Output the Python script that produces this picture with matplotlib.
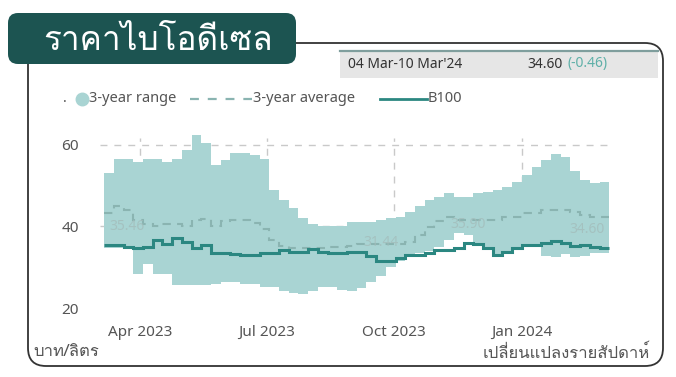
import matplotlib
matplotlib.use("Agg")
import matplotlib.pyplot as plt
import matplotlib.dates as mdates
from matplotlib.patches import FancyBboxPatch, Rectangle
from matplotlib.lines import Line2D
from matplotlib import font_manager
import pandas as pd


def find_thai_font():
    # look for any installed font that has Thai glyphs
    try:
        from fontTools.ttLib import TTFont
    except ImportError:
        return None
    for f in font_manager.fontManager.ttflist:
        try:
            cmap = TTFont(f.fname, fontNumber=0, lazy=True).getBestCmap()
        except Exception:
            continue
        if cmap and 0x0E23 in cmap and 0x0E32 in cmap:
            return f.name
    return None


THAI = find_thai_font()
LATIN = "Noto Sans"
FAM = [LATIN, THAI] if THAI else [LATIN, "DejaVu Sans"]
THAI_FAM = [THAI, LATIN] if THAI else FAM
plt.rcParams["font.family"] = FAM

# --- data: weekly, 06 Mar 2023 .. 04 Mar 2024 ---
first_week = "2023-03-06"
n_weeks = 52

range_high = [53.2, 56.6, 56.6, 55.8, 56.6, 56.6, 55.9, 56.6, 58.8, 62.4,
              60.5, 55.0, 56.3, 58.0, 58.0, 57.6, 56.6, 49.0, 46.6, 44.5,
              42.0, 40.5, 40.0, 40.2, 40.0, 41.0, 41.0, 41.2, 41.7, 42.0,
              42.4, 43.6, 44.9, 46.6, 47.3, 48.3, 47.3, 47.3, 48.3, 48.5,
              49.0, 49.8, 51.0, 52.7, 54.6, 56.3, 57.8, 57.1, 53.7, 51.5,
              50.7, 51.0]
range_low = [34.6, 34.6, 34.6, 28.3, 30.7, 28.3, 28.3, 25.6, 25.6, 25.6,
             25.6, 26.0, 26.3, 26.3, 26.0, 26.0, 25.1, 25.1, 24.1, 23.6,
             23.4, 24.1, 25.1, 25.1, 24.4, 24.1, 25.0, 26.3, 27.8, 30.0,
             31.5, 32.7, 33.6, 34.1, 34.9, 36.8, 38.5, 38.0, 35.6, 34.4,
             33.2, 34.0, 35.0, 35.6, 35.6, 32.7, 32.4, 33.2, 32.4, 32.7,
             33.6, 33.6]
avg_3y = [43.4, 44.9, 44.1, 41.7, 40.7, 40.0, 40.5, 40.5, 40.2, 41.7,
          41.9, 40.2, 41.3, 41.5, 41.5, 40.9, 39.3, 36.8, 35.1, 34.8,
          34.6, 34.6, 34.8, 35.0, 35.0, 35.3, 35.6, 35.6, 35.6, 35.6,
          35.6, 36.3, 38.0, 39.8, 41.3, 42.4, 41.7, 41.7, 41.7, 41.7,
          41.7, 42.4, 42.4, 43.4, 43.4, 44.1, 44.1, 44.1, 43.6, 42.9,
          42.4, 42.4]
b100 = [35.46, 35.5, 35.0, 34.6, 35.0, 36.7, 35.8, 37.2, 36.3, 34.8,
        35.5, 33.6, 33.6, 33.3, 32.9, 32.9, 33.5, 33.5, 34.2, 33.8,
        33.8, 34.5, 33.7, 33.4, 33.5, 33.8, 33.8, 32.8, 31.44, 31.6,
        32.3, 33.0, 33.0, 33.6, 34.2, 34.2, 34.8, 35.90, 35.7, 34.8,
        32.9, 33.8, 34.8, 35.5, 35.5, 35.9, 36.4, 35.9, 35.2, 35.5,
        35.06, 34.60]
value_labels = [0, 28, 37, 51]   # weeks that carry a grey value label

yticks = [20, 40, 60]
title = "ราคาไบโอดีเซล"
period_text = "04 Mar-10 Mar'24"
last_text = "34.60"
change_text = "(-0.46)"
unit_text = "บาท/ลิตร"
note_text = "เปลี่ยนแปลงรายสัปดาห์"

band_color = "#a9d4d3"
line_color = "#2b8781"
avg_color = "#8ab4b1"
text_grey = "#555555"

edges = pd.date_range(first_week, periods=n_weeks + 1, freq="7D")
x_edges = mdates.date2num(edges.to_pydatetime())
x_mid = (x_edges[:-1] + x_edges[1:]) / 2

W, H = 676, 377
fig = plt.figure(figsize=(W / 100, H / 100), dpi=100)


def inch(x, y):
    # pixel position in the picture (top-left origin) -> inches
    return x / 100, (H - y) / 100


# outer rounded frame
fx, fy = inch(28, 366)
frame = FancyBboxPatch((fx, fy), 6.35, 3.23, boxstyle="round,pad=0,rounding_size=0.18",
                       transform=fig.dpi_scale_trans, fill=False, ec="#333333", lw=1.3)
fig.add_artist(frame)

# title box
tx, ty = inch(8, 64)
tbox = FancyBboxPatch((tx, ty), 2.88, 0.51, boxstyle="round,pad=0,rounding_size=0.1",
                      transform=fig.dpi_scale_trans, fc="#1c5451", ec="none")
fig.add_artist(tbox)
fig.text(158 / W, 1 - 41 / H, title, color="white", fontsize=24, family=THAI_FAM,
         ha="center", va="center")

# info box
ix, iy = inch(340, 78)
fig.add_artist(Rectangle((ix, iy), 3.18, 0.27, transform=fig.dpi_scale_trans,
                         fc="#e6e6e6", ec="none"))
fig.add_artist(Line2D([3.40, 6.58], [(H - 51) / 100] * 2, transform=fig.dpi_scale_trans,
                      color="#7f9e9d", lw=1.6))
fig.text(348 / W, 1 - 64 / H, period_text, fontsize=10, color="#333333", va="center")
fig.text(527 / W, 1 - 64 / H, last_text, fontsize=10, color="#333333", va="center")
fig.text(568 / W, 1 - 64 / H, change_text, fontsize=10, color="#5fb0a8", va="center")

# legend, drawn by hand to keep the tight spacing
ly = (H - 99) / 100
fig.text(63 / W, 1 - 99 / H, ".", fontsize=10, color=text_grey, va="center")
fig.add_artist(Line2D([0.82], [ly], transform=fig.dpi_scale_trans, marker="o",
                      ms=9, color=band_color, ls="none"))
fig.text(89 / W, 1 - 99 / H, "3-year range", fontsize=10.5, color=text_grey, va="center")
fig.add_artist(Line2D([1.90, 2.52], [ly, ly], transform=fig.dpi_scale_trans,
                      color=avg_color, lw=1.6, ls=(0, (4, 4))))
fig.text(253 / W, 1 - 99 / H, "3-year average", fontsize=10.5, color=text_grey, va="center")
fig.add_artist(Line2D([3.80, 4.27], [ly, ly], transform=fig.dpi_scale_trans,
                      color=line_color, lw=2))
fig.text(428 / W, 1 - 99 / H, "B100", fontsize=10.5, color=text_grey, va="center")

# chart
ax = fig.add_axes([100 / W, (H - 308) / H, 512 / W, 170 / H])
ax.set_axisbelow(True)
y0, y1 = 20, 61.7
ax.stairs(range_high, x_edges, baseline=range_low, fill=True, color=band_color,
          lw=0, zorder=1, clip_on=False)
# the space under the band is blank in the original (stacked-area look)
ax.stairs(range_low, x_edges, baseline=y0, fill=True, color="white", lw=0, zorder=0.8)
ax.stairs(avg_3y, x_edges, baseline=None, color=avg_color, lw=1.5,
          ls=(0, (4, 3)), zorder=2)
ax.stairs(b100, x_edges, baseline=None, color=line_color, lw=2.2, zorder=3)

for i in value_labels:
    ha = "left" if i == 0 else ("right" if i == n_weeks - 1 else "center")
    ax.annotate(f"{b100[i]:.2f}", (x_mid[i], b100[i]), xytext=(0, 8),
                textcoords="offset points", ha=ha, va="bottom", fontsize=10,
                color="#a3bdbb", alpha=0.8, zorder=4)

ax.set_xlim(mdates.datestr2num("2023-03-03"), mdates.datestr2num("2024-03-06"))
ax.set_ylim(y0, y1)
ax.set_yticks(yticks)
ax.xaxis.set_major_locator(mdates.MonthLocator(bymonth=[1, 4, 7, 10]))
ax.xaxis.set_major_formatter(mdates.DateFormatter("%b %Y"))
ax.tick_params(length=0, labelsize=11, colors=text_grey)
ax.tick_params(axis="x", pad=12)
ax.tick_params(axis="y", pad=15)
ax.grid(True, color="#c9c9c9", lw=1, ls=(0, (5, 5)))
ax.get_ygridlines()[0].set_visible(False)
for s in ax.spines.values():
    s.set_visible(False)
ax.set_facecolor("none")

fig.text(33 / W, 1 - 352 / H, unit_text, fontsize=12, color=text_grey, family=THAI_FAM,
         va="center")
fig.text(650 / W, 1 - 353 / H, note_text, fontsize=12, color=text_grey, family=THAI_FAM,
         va="center", ha="right")

fig.savefig("out.png", dpi=100)
